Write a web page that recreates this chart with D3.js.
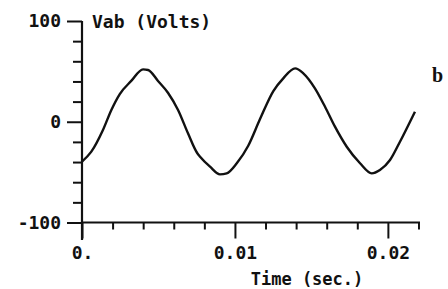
<!DOCTYPE html>
<html>
<head>
<meta charset="utf-8">
<script src="https://cdn.jsdelivr.net/npm/d3@7"></script>
<style>
  body { margin: 0; background: #fff; }
  svg { display: block; }
  .tk text { font-family: "DejaVu Sans Mono", monospace; font-size: 18px; fill: #111; }
</style>
</head>
<body>
<div class="module"></div>
<script>
// time (s) and Vab (V)
const times = [0, 0.00061, 0.00137, 0.00192, 0.00247, 0.00322, 0.00399, 0.00432, 0.00497, 0.00562,
  0.00628, 0.00693, 0.00754, 0.00772, 0.00837, 0.00902, 0.00946, 0.01012, 0.01087, 0.01164,
  0.01251, 0.01316, 0.01393, 0.01447, 0.01523, 0.01589, 0.01654, 0.01731, 0.01818, 0.01894,
  0.01948, 0.02014, 0.02079, 0.02177];
const volts = [-39.5, -29.7, -8.2, 11.7, 27.5, 40.5, 52, 51.4, 40.5, 28.8,
  11.7, -11.5, -31.3, -34.7, -44.6, -52.2, -51.2, -41.2, -23.8, 2.7,
  30.5, 43.1, 53, 48.1, 33.2, 14.9, -4.9, -24.8, -41.2, -51.2,
  -47.9, -38, -19.8, 10];

const yMajor = [-100, 0, 100];
const yMinor = [-80, -60, -40, -20, 20, 40, 60, 80];
const xMajor = [0, 0.01, 0.02];
const xMinor = [0.002, 0.004, 0.006, 0.008, 0.012, 0.014, 0.016, 0.018, 0.022];

const W = 448, H = 289;
const svg = d3.select(".module").append("svg")
  .attr("width", W).attr("height", H);

const x = d3.scaleLinear().domain([0, 0.0221]).range([82, 420]);
const y = d3.scaleLinear().domain([-100, 100]).range([222.5, 21]);

// y axis
svg.append("g").attr("class", "tk")
  .attr("transform", "translate(82,0)")
  .call(d3.axisLeft(y).tickValues(yMinor).tickSize(9).tickFormat(""))
  .call(g => g.select(".domain").remove());
svg.append("g").attr("class", "tk")
  .attr("transform", "translate(82,0)")
  .call(d3.axisLeft(y).tickValues(yMajor).tickSize(15).tickPadding(6)
    .tickFormat(d => d < 0 ? "-" + Math.abs(d) : d))
  .call(g => g.select(".domain").remove());

// x axis
svg.append("g").attr("class", "tk")
  .attr("transform", "translate(0,222.5)")
  .call(d3.axisBottom(x).tickValues(xMinor).tickSize(7).tickFormat(""))
  .call(g => g.select(".domain").remove());
svg.append("g").attr("class", "tk")
  .attr("transform", "translate(0,222.5)")
  .call(d3.axisBottom(x).tickValues(xMajor).tickSize(16).tickPadding(8)
    .tickFormat(d => d === 0 ? "0." : d3.format(".2f")(d)))
  .call(g => g.select(".domain").remove());

svg.selectAll(".tk line").attr("stroke", "#111").attr("stroke-width", 2);
svg.selectAll(".tk text").attr("font-weight", "bold");

// axis lines
svg.append("line").attr("x1", 82).attr("x2", 82).attr("y1", y(100)).attr("y2", 240)
  .attr("stroke", "#111").attr("stroke-width", 2.2);
svg.append("line").attr("x1", 82).attr("x2", x(0.0221)).attr("y1", y(-100)).attr("y2", y(-100))
  .attr("stroke", "#111").attr("stroke-width", 2.2);

// trace
const pts = times.map((t, i) => [t, volts[i]]);
svg.append("path")
  .datum(pts)
  .attr("fill", "none")
  .attr("stroke", "#111")
  .attr("stroke-width", 2.4)
  .attr("stroke-linejoin", "round")
  .attr("d", d3.line().x(d => x(d[0])).y(d => y(d[1])).curve(d3.curveMonotoneX));

// titles
svg.append("text").attr("x", 92).attr("y", 28)
  .attr("font-family", "DejaVu Sans Mono, monospace").attr("font-size", 18).attr("font-weight", "bold").attr("fill", "#111")
  .text("Vab (Volts)");
svg.append("text").attr("x", 307).attr("y", 285).attr("text-anchor", "middle")
  .attr("font-family", "DejaVu Sans Mono, monospace").attr("font-size", 17).attr("font-weight", "bold").attr("fill", "#111")
  .text("Time (sec.)");
svg.append("text").attr("x", 432).attr("y", 82)
  .attr("font-family", "Liberation Serif, serif").attr("font-size", 20).attr("font-weight", "bold").attr("fill", "#111")
  .text("b");
</script>
</body>
</html>
